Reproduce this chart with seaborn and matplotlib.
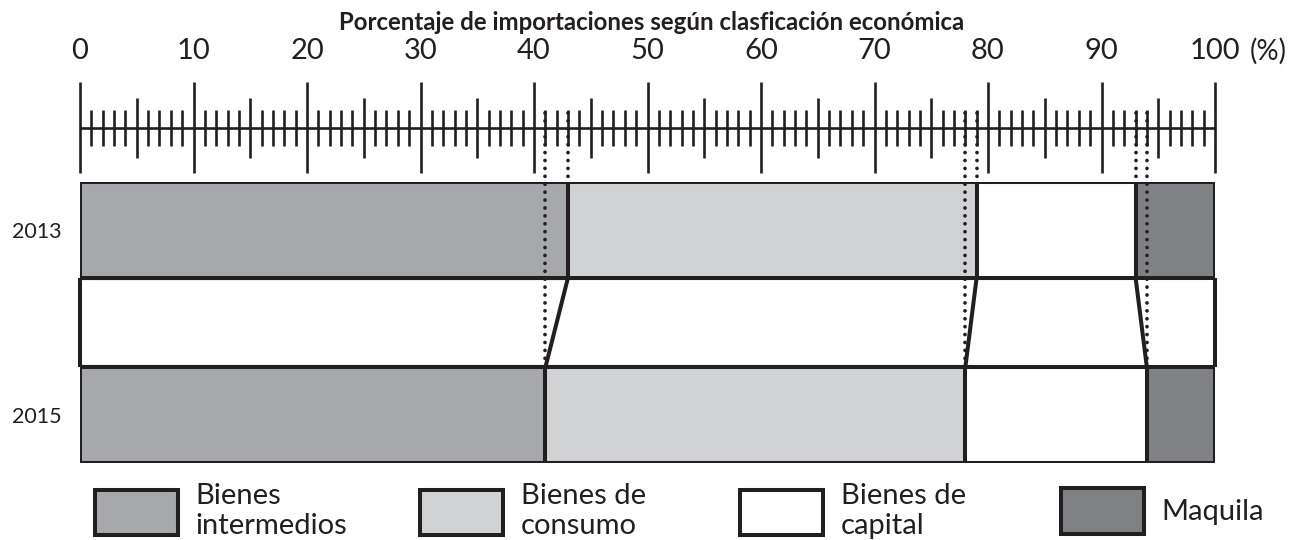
import numpy as np
import pandas as pd
import seaborn as sns
import matplotlib
matplotlib.use("Agg")
from matplotlib import pyplot as plt
from matplotlib import transforms as mtransforms
from matplotlib.patches import Patch

# =========================
# Data (percent of imports by economic classification)
# =========================
years = ["2013", "2015"]
categories = ["Bienes intermedios", "Bienes de consumo", "Bienes de capital", "Maquila"]
legend_labels = ["Bienes\nintermedios", "Bienes de\nconsumo", "Bienes de\ncapital", "Maquila"]
values_2013 = [43, 36, 14, 7]
values_2015 = [41, 37, 16, 6]
colors = ["#a7a8ab", "#d1d2d4", "#ffffff", "#808184"]

df = pd.DataFrame({
    "year": np.repeat(years, len(categories)),
    "category": categories * len(years),
    "value": values_2013 + values_2015,
})
df["cum"] = df.groupby("year")["value"].cumsum()

# =========================
# Figure / layout (pixel based)
# =========================
W, H = 1301, 540
sns.set_style("white")
plt.rcParams["font.family"] = ["Lato", "DejaVu Sans"]

fig = plt.figure(figsize=(W / 100, H / 100), dpi=100)

def fx(px):
    return px / W

def fy(px):
    return 1 - px / H

x0, x1 = 80, 1215
bar_top, bar_bot = 182, 463
ax = fig.add_axes([fx(x0), fy(bar_bot), fx(x1 - x0), (bar_bot - bar_top) / H])
ruler_top, ruler_bot = 82, 180
ax_r = fig.add_axes([fx(x0), fy(ruler_bot), fx(x1 - x0), (ruler_bot - ruler_top) / H])

ink = "#231f20"

# =========================
# Stacked bars (cumulative, drawn back to front)
# =========================
bw = 0.515
edge_lw = 2.9
for cat, col in reversed(list(zip(categories, colors))):
    sub = df[df["category"] == cat]
    sns.barplot(data=sub, x="cum", y="year", order=years, orient="h",
                color=col, saturation=1, width=bw, errorbar=None,
                edgecolor=ink, linewidth=edge_lw, ax=ax)

half = bw / 2
ax.set_xlim(0, 100)
ax.set_ylim(1 + half, -half)
ax.vlines([0, 100], half, 1 - half, color=ink, lw=edge_lw, clip_on=False)

cum13 = df[df["year"] == "2013"]["cum"].values[:-1]
cum15 = df[df["year"] == "2015"]["cum"].values[:-1]
for a, b in zip(cum13, cum15):
    ax.plot([a, b], [half, 1 - half], color=ink, lw=edge_lw,
            solid_capstyle="butt", clip_on=False, zorder=5)

# dotted guides from the ruler down to each bar
blend = mtransforms.blended_transform_factory(ax.transData, fig.transFigure)
dot_style = dict(color=ink, lw=2.7, linestyle=(0, (0.01, 2.1)),
                 dash_capstyle="round", clip_on=False, zorder=6, transform=blend)
for a in cum13:
    ax.plot([a, a], [fy(113), fy(217)], **dot_style)
for b in cum15:
    ax.plot([b, b], [fy(113), fy(380)], **dot_style)

for s in ax.spines.values():
    s.set_visible(False)
ax.set_xticks([])
ax.set_xlabel("")
ax.set_ylabel("")
ax.tick_params(axis="y", length=0, pad=13, labelsize=15.5, labelcolor=ink)

# =========================
# Ruler axis
# =========================
ax_r.set_xlim(0, 100)
ax_r.set_ylim(ruler_bot, ruler_top)
ax_r.axis("off")
rlw = 1.9
ax_r.hlines(128, 0, 100, color=ink, lw=rlw, clip_on=False)
minor = np.arange(0, 101)
minor = minor[minor % 5 != 0]
ax_r.vlines(minor, 110, 146, color=ink, lw=rlw, clip_on=False)
ax_r.vlines(np.arange(5, 100, 10), 98, 158, color=ink, lw=rlw, clip_on=False)
major = np.arange(0, 101, 10)
ax_r.vlines(major, 82, 173, color=ink, lw=rlw, clip_on=False)
for m in major:
    ax_r.text(m, 51, str(m), ha="center", va="center", fontsize=21,
              color=ink, clip_on=False)
fig.text(fx(1268), fy(51), "(%)", ha="center", va="center", fontsize=20, color=ink)

fig.text(fx(652), fy(22), "Porcentaje de importaciones según clasficación económica",
         ha="center", va="center", fontsize=17.3, fontweight="bold", color=ink)

# =========================
# Legend
# =========================
legend_x = [95, 420, 740, 1061]
for lab, col, lx in zip(legend_labels, colors, legend_x):
    h = Patch(facecolor=col, edgecolor=ink, linewidth=2.9)
    fig.legend(handles=[h], labels=[lab], loc="center left",
               bbox_to_anchor=(fx(lx), fy(511)), frameon=False, borderpad=0,
               borderaxespad=0, fontsize=21, handlelength=2.85, handleheight=2.0,
               handletextpad=0.6, labelcolor=ink)

fig.savefig("out.png", dpi=100)
